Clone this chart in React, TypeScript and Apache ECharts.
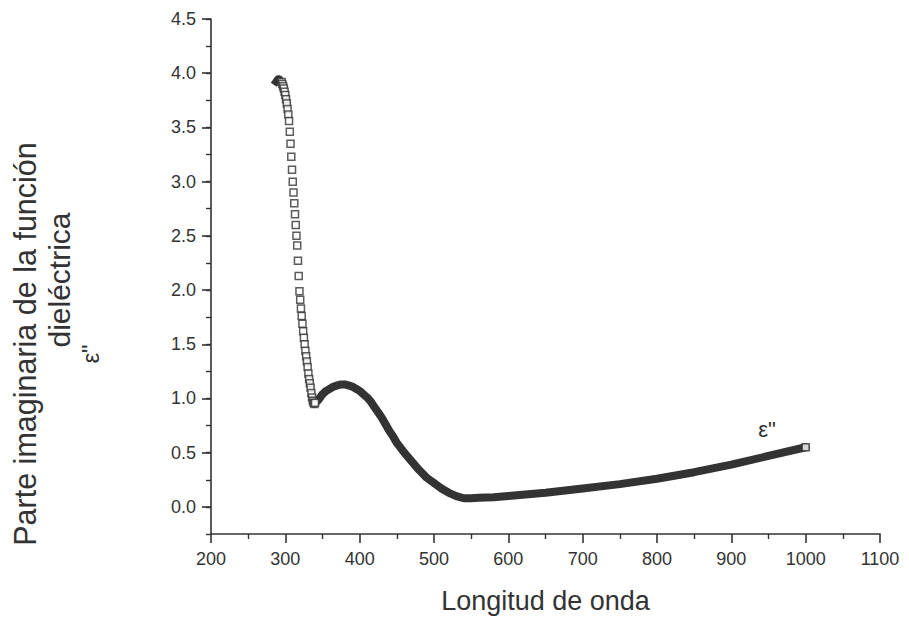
import React, { useEffect, useRef } from "react";
import * as echarts from "echarts";

// Steep descending part (distinct hollow squares), wavelength in nm
const steepWavelength = [
  287, 288, 289, 290, 291, 292, 293, 294, 295, 296, 297, 298, 299, 300,
  301, 302, 303, 304, 305, 306, 307, 308, 309, 310, 311, 312, 313, 314,
  315, 316, 317, 318, 319, 320, 321, 322, 323, 324, 325, 326, 327, 328,
  329, 330, 331, 332, 333, 334, 335, 336, 337, 338, 339, 340,
];
const steepEps = [
  3.92, 3.93, 3.94, 3.95, 3.95, 3.95, 3.94, 3.93, 3.92, 3.9, 3.88, 3.86, 3.83, 3.8,
  3.76, 3.72, 3.67, 3.62, 3.56, 3.46, 3.35, 3.23, 3.11, 3.0, 2.9, 2.8, 2.7, 2.6,
  2.5, 2.41, 2.27, 2.13, 1.99, 1.91, 1.83, 1.76, 1.69, 1.62, 1.56, 1.5, 1.44, 1.39,
  1.34, 1.29, 1.23, 1.18, 1.14, 1.1, 1.05, 1.01, 0.98, 0.96, 0.95, 0.96,
];
// number of leading steep points that overlap into a solid blob at the top
const blobCount = 10;

// Dense part (markers overlap into a thick band)
const bandWavelength = [
  339, 345, 350, 355, 360, 365, 370, 375, 380, 385, 390, 395, 400, 405, 410,
  415, 420, 425, 430, 435, 440, 445, 450, 460, 470, 480, 490, 500, 510, 520,
  530, 540, 550, 560, 580, 600, 650, 700, 750, 800, 850, 900, 950, 1000,
];
const bandEps = [
  0.95, 0.99, 1.04, 1.07, 1.09, 1.11, 1.12, 1.13, 1.13, 1.12, 1.11, 1.09, 1.07, 1.04, 1.01,
  0.97, 0.92, 0.87, 0.82, 0.76, 0.7, 0.65, 0.59, 0.5, 0.42, 0.34, 0.27, 0.22, 0.17, 0.13,
  0.1, 0.08, 0.08, 0.085, 0.09, 0.1, 0.13, 0.17, 0.21, 0.26, 0.32, 0.39, 0.47, 0.55,
];

const yMajorTicks = [0, 0.5, 1, 1.5, 2, 2.5, 3, 3.5, 4, 4.5];

const INK = "#333";
const FONT = "Liberation Sans, Arial, sans-serif";

export default function App() {
  const ref = useRef<HTMLDivElement>(null);

  useEffect(() => {
    if (!ref.current) return;
    const chart = echarts.init(ref.current, null, { renderer: "svg" });

    const steepData = steepWavelength.map((w, i) => [w, steepEps[i]]);
    const blobData = steepData.slice(0, blobCount);
    const bandData = bandWavelength.map((w, i) => [w, bandEps[i]]);
    const lastPoint = bandData[bandData.length - 1];

    chart.setOption({
      animation: false,
      backgroundColor: "#fff",
      grid: { left: 203, right: 29, top: 11, bottom: 90, containLabel: false },
      xAxis: {
        type: "value",
        min: 200,
        max: 1100,
        interval: 100,
        name: "Longitud de onda",
        nameLocation: "middle",
        nameGap: 53,
        nameTextStyle: { fontFamily: FONT, fontSize: 27, color: INK },
        axisLine: { show: true, onZero: false, lineStyle: { color: INK, width: 1.6 } },
        axisTick: { show: true, inside: false, length: 9, lineStyle: { color: INK, width: 1.6 } },
        minorTick: { show: true, splitNumber: 2, length: 5, lineStyle: { color: INK, width: 1.4 } },
        axisLabel: {
          fontFamily: FONT,
          fontSize: 18,
          color: INK,
          margin: 16,
          formatter: (v: number) => String(v),
        },
        splitLine: { show: false },
      },
      yAxis: [
        {
          type: "value",
          min: -0.25,
          max: 4.5,
          interval: 0.25,
          axisLine: { show: true, onZero: false, lineStyle: { color: INK, width: 1.6 } },
          axisTick: {
            show: true,
            length: 9,
            customValues: yMajorTicks,
            lineStyle: { color: INK, width: 1.6 },
          },
          axisLabel: {
            fontFamily: FONT,
            fontSize: 18,
            color: INK,
            margin: 15,
            customValues: yMajorTicks,
            formatter: (v: number) => v.toFixed(1),
          },
          splitLine: { show: false },
        },
        {
          type: "value",
          min: -0.25,
          max: 4.5,
          interval: 0.25,
          position: "left",
          axisLine: { show: false },
          axisTick: { show: true, length: 5, lineStyle: { color: INK, width: 1.4 } },
          axisLabel: { show: false },
          splitLine: { show: false },
        },
      ],
      series: [
        {
          type: "line",
          data: bandData,
          showSymbol: false,
          lineStyle: { color: INK, width: 8, cap: "round", join: "round" },
          z: 2,
        },
        {
          type: "line",
          data: blobData,
          showSymbol: false,
          lineStyle: { color: INK, width: 7, cap: "square", join: "round" },
          z: 2,
        },
        {
          type: "scatter",
          data: steepData.slice(blobCount - 2),
          symbol: "rect",
          symbolSize: 7,
          itemStyle: { color: "#fff", borderColor: INK, borderWidth: 1.5 },
          z: 3,
        },
        {
          type: "scatter",
          data: [lastPoint],
          symbol: "rect",
          symbolSize: 7,
          itemStyle: { color: "#fff", borderColor: INK, borderWidth: 1.6 },
          z: 4,
        },
      ],
      graphic: [
        {
          type: "text",
          x: 17,
          y: 336,
          rotation: Math.PI / 2,
          style: {
            text: "Parte imaginaria de la función",
            font: `30.5px ${FONT}`,
            fill: INK,
            textAlign: "center",
            textVerticalAlign: "middle",
          },
        },
        {
          type: "text",
          x: 51,
          y: 272,
          rotation: Math.PI / 2,
          style: {
            text: "dieléctrica",
            font: `30px ${FONT}`,
            fill: INK,
            textAlign: "center",
            textVerticalAlign: "middle",
          },
        },
        {
          type: "text",
          x: 82,
          y: 346,
          rotation: Math.PI / 2,
          style: {
            text: 'ε"',
            font: `24px ${FONT}`,
            fill: INK,
            textAlign: "center",
            textVerticalAlign: "middle",
          },
        },
        {
          type: "text",
          x: 759,
          y: 421,
          style: {
            text: 'ε"',
            font: `22px ${FONT}`,
            fill: INK,
            textAlign: "center",
            textVerticalAlign: "middle",
          },
        },
      ],
    });

    return () => chart.dispose();
  }, []);

  return <div ref={ref} style={{ width: 901, height: 616 }} />;
}
